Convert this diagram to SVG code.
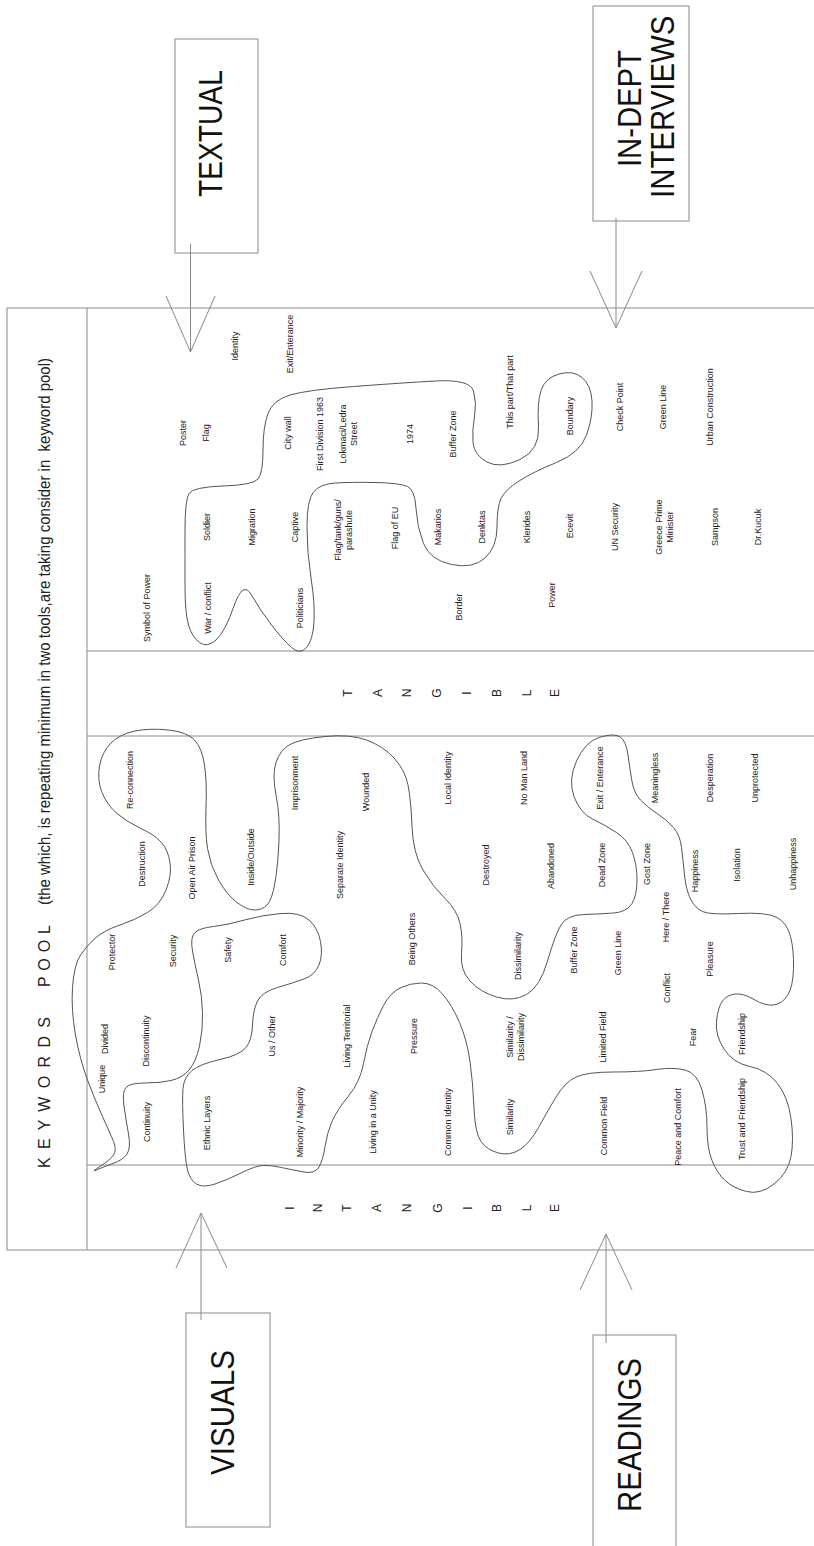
<svg xmlns="http://www.w3.org/2000/svg" width="814" height="1546" viewBox="0 0 814 1546">
<style>
.frame{fill:none;stroke:#8a8a8a;stroke-width:1}
.box{fill:#fff;stroke:#8a8a8a;stroke-width:1}
.conn{fill:none;stroke:#8a8a8a;stroke-width:1}
.blob{fill:none;stroke:#555;stroke-width:1}
.k{font-family:"Liberation Sans",Arial,sans-serif;font-size:9px;fill:#222;text-anchor:middle;dominant-baseline:central}
.big{font-family:"Liberation Sans",Arial,sans-serif;font-size:29.4px;fill:#111}
.ttl{font-family:"Liberation Sans",Arial,sans-serif;font-size:16px;fill:#222;white-space:pre}
.t{font-family:"Liberation Sans",Arial,sans-serif;font-size:12px;fill:#222;text-anchor:middle;dominant-baseline:central}
</style>
<rect width="814" height="1546" fill="#fff"/>
<g id="pool-frame">
<rect class="frame" x="7" y="308" width="820" height="942"/>
<line class="frame" x1="87" y1="308" x2="87" y2="1250"/>
<line class="frame" x1="87" y1="651" x2="814" y2="651"/>
<line class="frame" x1="87" y1="736" x2="814" y2="736"/>
<line class="frame" x1="87" y1="1165" x2="814" y2="1165"/>
</g>
<g id="pool-title">
<text class="ttl" transform="translate(50,1168) rotate(-90)" textLength="151" lengthAdjust="spacing">K E Y W O R D S</text>
<text class="ttl" transform="translate(50,987) rotate(-90)" textLength="62" lengthAdjust="spacing">P O O L</text>
<text class="ttl" transform="translate(50,905) rotate(-90)" textLength="547" lengthAdjust="spacingAndGlyphs">(the which, is repeating minimum in two tools,are taking consider in  keyword pool)</text>
</g>
<g id="tangible">
<text class="t" transform="translate(348,693) rotate(-90)">T</text>
<text class="t" transform="translate(378,693) rotate(-90)">A</text>
<text class="t" transform="translate(407,693) rotate(-90)">N</text>
<text class="t" transform="translate(437,693) rotate(-90)">G</text>
<text class="t" transform="translate(467,693) rotate(-90)">I</text>
<text class="t" transform="translate(497,693) rotate(-90)">B</text>
<text class="t" transform="translate(527,693) rotate(-90)">L</text>
<text class="t" transform="translate(555,693) rotate(-90)">E</text>
</g>
<g id="intangible">
<text class="t" transform="translate(290,1208) rotate(-90)">I</text>
<text class="t" transform="translate(318,1208) rotate(-90)">N</text>
<text class="t" transform="translate(347,1208) rotate(-90)">T</text>
<text class="t" transform="translate(377,1208) rotate(-90)">A</text>
<text class="t" transform="translate(407,1208) rotate(-90)">N</text>
<text class="t" transform="translate(438,1208) rotate(-90)">G</text>
<text class="t" transform="translate(468,1208) rotate(-90)">I</text>
<text class="t" transform="translate(497,1208) rotate(-90)">B</text>
<text class="t" transform="translate(527,1208) rotate(-90)">L</text>
<text class="t" transform="translate(555,1208) rotate(-90)">E</text>
</g>
<g id="connectors">
<line class="conn" x1="190.5" y1="244" x2="190.5" y2="352"/>
<polyline class="conn" points="166,296 190.5,352 215,296"/>
<line class="conn" x1="616" y1="218" x2="616" y2="328"/>
<polyline class="conn" points="590,271 616,328 642,271"/>
<line class="conn" x1="201" y1="1320" x2="201" y2="1213"/>
<polyline class="conn" points="176,1268 201,1213 227,1268"/>
<line class="conn" x1="606" y1="1343" x2="606" y2="1234"/>
<polyline class="conn" points="580,1290 606,1234 632,1290"/>
</g>
<g id="textual">
<rect class="box" x="175" y="39" width="83" height="214"/>
<line class="conn" x1="190.5" y1="244" x2="190.5" y2="253"/>
<text class="big" style="font-size:28.2px" transform="translate(222,197) rotate(-90) scale(1,1.2)">TEXTUAL</text>
</g>
<g id="in-depth-interviews">
<rect class="box" x="593" y="6" width="96" height="215"/>
<line class="conn" x1="616" y1="218" x2="616" y2="221"/>
<text class="big" style="font-size:29.25px" transform="translate(641,167) rotate(-90) scale(1,1.16)">IN-DEPT</text>
<text class="big" transform="translate(674,198) rotate(-90) scale(1,1.16)">INTERVIEWS</text>
</g>
<g id="visuals">
<rect class="box" x="186" y="1313" width="84" height="214"/>
<line class="conn" x1="201" y1="1313" x2="201" y2="1320"/>
<text class="big" style="font-size:29.6px" transform="translate(234,1475) rotate(-90) scale(1,1.15)">VISUALS</text>
</g>
<g id="readings">
<rect class="box" x="593" y="1335" width="83" height="230"/>
<line class="conn" x1="606" y1="1335" x2="606" y2="1343"/>
<text class="big" style="font-size:29.5px" transform="translate(641,1512) rotate(-90) scale(1,1.15)">READINGS</text>
</g>
<g id="groupings">
<path class="blob" d="M 189,493.5 Q 185,500 185,530 Q 185,560 185,586.5 Q 185,613 188.5,625 Q 192,637 199.5,642.5 Q 207,648 216,640 Q 225,632 234,606 Q 243,580 251.5,595 Q 260,610 271.5,625 Q 283,640 291.5,647.5 Q 300,655 306.5,647.5 Q 313,640 314,621.5 Q 315,603 311,578 Q 307,553 307,526.5 Q 307,500 313.5,492 Q 320,484 335,483 Q 350,482 375,482.5 Q 400,483 407.5,486.5 Q 415,490 416,508.5 Q 417,527 423.5,543.5 Q 430,560 451.5,564.5 Q 473,569 485,558 Q 497,547 497,527 Q 497,507 501,498.5 Q 505,490 519,481 Q 533,472 556.5,462.5 Q 580,453 586.5,435 Q 593,417 592,401 Q 591,385 582,377.5 Q 573,370 559,374 Q 545,378 541,390.5 Q 537,403 538.5,426.5 Q 540,450 520,459.5 Q 500,469 487,462 Q 474,455 473,442.5 Q 472,430 474.5,416.5 Q 477,403 473.5,391 Q 470,379 435,381 Q 400,383 353.5,386.5 Q 307,390 290,395 Q 273,400 268,413.5 Q 263,427 263,450 Q 263,473 258,479 Q 253,485 223,486 Q 193,487 189,493.5 Z"/>
<path class="blob" d="M 135,731 Q 150,728 168.5,730 Q 187,732 194.5,740 Q 202,748 204.5,765 Q 207,782 206,807 Q 205,832 207.5,848.5 Q 210,865 218.5,880 Q 227,895 237,902.5 Q 247,910 254.5,910 Q 262,910 267,905 Q 272,900 275,882.5 Q 278,865 279,840 Q 280,815 276,795 Q 272,775 276,762.5 Q 280,750 290,744.5 Q 300,739 325,736.5 Q 350,734 366.5,740 Q 383,746 394,758 Q 405,770 408,785 Q 411,800 412,826.5 Q 413,853 423,870 Q 433,887 445,898.5 Q 457,910 460,923.5 Q 463,937 461.5,953.5 Q 460,970 470,981 Q 480,992 496.5,997 Q 513,1002 526.5,994.5 Q 540,987 547.5,961 Q 555,935 561,925 Q 567,915 583.5,914.5 Q 600,914 613.5,913 Q 627,912 632,903.5 Q 637,895 637,880 Q 637,865 632.5,852.5 Q 628,840 616.5,832.5 Q 605,825 592.5,819 Q 580,813 574,796.5 Q 568,780 576.5,761 Q 585,742 599,737.5 Q 613,733 619.5,736.5 Q 626,740 628,755 Q 630,770 632,781.5 Q 634,793 640.5,800 Q 647,807 657,813.5 Q 667,820 673.5,827.5 Q 680,835 681.5,847.5 Q 683,860 684.5,875 Q 686,890 690.5,899 Q 695,908 702.5,911.5 Q 710,915 738.5,913.5 Q 767,912 777,917.5 Q 787,923 790.5,936.5 Q 794,950 793.5,968.5 Q 793,987 787.5,995.5 Q 782,1004 773.5,1005 Q 765,1006 754,999.5 Q 743,993 735,994 Q 727,995 722.5,1001 Q 718,1007 716.5,1021 Q 715,1035 724,1049 Q 733,1063 750,1066.5 Q 767,1070 777.5,1083.5 Q 788,1097 791,1118.5 Q 794,1140 791,1156.5 Q 788,1173 774,1184 Q 760,1195 746.5,1191.5 Q 733,1188 725,1180.5 Q 717,1173 712,1160.5 Q 707,1148 707,1127.5 Q 707,1107 702,1090 Q 697,1073 685,1070 Q 673,1067 656.5,1069.5 Q 640,1072 613.5,1072 Q 587,1072 576,1077 Q 565,1082 556,1097 Q 547,1112 538.5,1127.5 Q 530,1143 520,1149.5 Q 510,1156 498.5,1153 Q 487,1150 481,1141.5 Q 475,1133 474,1108 Q 473,1083 470,1061.5 Q 467,1040 459.5,1022.5 Q 452,1005 442.5,994 Q 433,983 421.5,983 Q 410,983 400,988 Q 390,993 383.5,1005.5 Q 377,1018 372,1031.5 Q 367,1045 363.5,1063.5 Q 360,1082 348.5,1096 Q 337,1110 332,1121.5 Q 327,1133 325,1146.5 Q 323,1160 319,1167 Q 315,1174 304,1172 Q 293,1170 281.5,1167.5 Q 270,1165 262.5,1165.5 Q 255,1166 241,1173 Q 227,1180 215,1184 Q 203,1188 196.5,1184 Q 190,1180 187.5,1170 Q 185,1160 183.5,1130 Q 182,1100 183,1088.5 Q 184,1077 192,1070.5 Q 200,1064 220,1059.5 Q 240,1055 246,1047.5 Q 252,1040 252.5,1025 Q 253,1010 257.5,1001 Q 262,992 277.5,987.5 Q 293,983 304,979 Q 315,975 319,965 Q 323,955 320.5,941.5 Q 318,928 309,920 Q 300,912 281,913.5 Q 262,915 244.5,920 Q 227,925 213.5,926.5 Q 200,928 195,932.5 Q 190,937 192.5,951 Q 195,965 198.5,980 Q 202,995 202.5,1012.5 Q 203,1030 199.5,1046 Q 196,1062 189,1070 Q 182,1078 171,1080.5 Q 160,1083 145,1083 Q 130,1083 126,1087.5 Q 122,1092 124,1106 Q 126,1120 128.5,1134 Q 131,1148 127,1154 Q 123,1160 113,1163.5 Q 103,1167 96.5,1170 Q 90,1173 100,1166.5 Q 110,1160 113.5,1155 Q 117,1150 113.5,1141.5 Q 110,1133 102.5,1116.5 Q 95,1100 87.5,1080 Q 80,1060 75.5,1035 Q 71,1010 72.5,987.5 Q 74,965 80.5,955 Q 87,945 96,937.5 Q 105,930 120,925 Q 135,920 147.5,912.5 Q 160,905 166,890 Q 172,875 170,862.5 Q 168,850 161.5,842.5 Q 155,835 141,828.5 Q 127,822 117,813.5 Q 107,805 102,792.5 Q 97,780 99.5,766 Q 102,752 111,743 Q 120,734 135,731 Z"/>
</g>
<g id="tangible-keywords">
<g id="kw-symbol-of-power"><text class="k" transform="translate(147,608) rotate(-90)">Symbol of Power</text></g>
<g id="kw-poster"><text class="k" transform="translate(183,433) rotate(-90)">Poster</text></g>
<g id="kw-flag"><text class="k" transform="translate(206,433) rotate(-90)">Flag</text></g>
<g id="kw-identity"><text class="k" transform="translate(235,346) rotate(-90)">Identity</text></g>
<g id="kw-exit-enterance-t"><text class="k" transform="translate(290,344) rotate(-90)">Exit/Enterance</text></g>
<g id="kw-soldier"><text class="k" transform="translate(207,527) rotate(-90)">Soldier</text></g>
<g id="kw-war-conflict"><text class="k" transform="translate(208,608) rotate(-90)">War / conflict</text></g>
<g id="kw-migration"><text class="k" transform="translate(252,527) rotate(-90)">Migration</text></g>
<g id="kw-city-wall"><text class="k" transform="translate(288,433) rotate(-90)">City wall</text></g>
<g id="kw-captive"><text class="k" transform="translate(295,527) rotate(-90)">Captive</text></g>
<g id="kw-politicians"><text class="k" transform="translate(300,608) rotate(-90)">Politicians</text></g>
<g id="kw-first-division"><text class="k" transform="translate(320,434) rotate(-90)">First Division 1963</text></g>
<g id="kw-lokmaci"><text class="k" transform="translate(343,434) rotate(-90)">Lokmaci/Ledra</text><text class="k" transform="translate(354,434) rotate(-90)">Street</text></g>
<g id="kw-flag-tank"><text class="k" transform="translate(338,530) rotate(-90)">Flag/tank/guns/</text><text class="k" transform="translate(349,530) rotate(-90)">parashute</text></g>
<g id="kw-flag-eu"><text class="k" transform="translate(395,528) rotate(-90)">Flag of EU</text></g>
<g id="kw-1974"><text class="k" transform="translate(410,434) rotate(-90)">1974</text></g>
<g id="kw-buffer-zone-t"><text class="k" transform="translate(453,434) rotate(-90)">Buffer Zone</text></g>
<g id="kw-this-part"><text class="k" transform="translate(510,392) rotate(-90)">This part/That part</text></g>
<g id="kw-boundary"><text class="k" transform="translate(570,416) rotate(-90)">Boundary</text></g>
<g id="kw-check-point"><text class="k" transform="translate(620,407) rotate(-90)">Check Point</text></g>
<g id="kw-green-line-t"><text class="k" transform="translate(663,407) rotate(-90)">Green Line</text></g>
<g id="kw-urban"><text class="k" transform="translate(710,407) rotate(-90)">Urban Construction</text></g>
<g id="kw-makarios"><text class="k" transform="translate(438,527) rotate(-90)">Makarios</text></g>
<g id="kw-denktas"><text class="k" transform="translate(482,527) rotate(-90)">Denktas</text></g>
<g id="kw-klerides"><text class="k" transform="translate(527,527) rotate(-90)">Klerides</text></g>
<g id="kw-ecevit"><text class="k" transform="translate(570,526) rotate(-90)">Ecevit</text></g>
<g id="kw-un-security"><text class="k" transform="translate(615,527) rotate(-90)">UN Security</text></g>
<g id="kw-greece-pm"><text class="k" transform="translate(659,527) rotate(-90)">Greece Prime</text><text class="k" transform="translate(670,527) rotate(-90)">Minister</text></g>
<g id="kw-sampson"><text class="k" transform="translate(715,527) rotate(-90)">Sampson</text></g>
<g id="kw-kucuk"><text class="k" transform="translate(758,527) rotate(-90)">Dr.Kucuk</text></g>
<g id="kw-border"><text class="k" transform="translate(459,607) rotate(-90)">Border</text></g>
<g id="kw-power"><text class="k" transform="translate(552,595) rotate(-90)">Power</text></g>
</g>
<g id="intangible-keywords">
<g id="kw-reconnection"><text class="k" transform="translate(130,780) rotate(-90)">Re-connection</text></g>
<g id="kw-destruction"><text class="k" transform="translate(142,864) rotate(-90)">Destruction</text></g>
<g id="kw-open-air-prison"><text class="k" transform="translate(192,868) rotate(-90)">Open Air Prison</text></g>
<g id="kw-inside-outside"><text class="k" transform="translate(251,857) rotate(-90)">Inside/Outside</text></g>
<g id="kw-imprisonment"><text class="k" transform="translate(295,783) rotate(-90)">Imprisonment</text></g>
<g id="kw-wounded"><text class="k" transform="translate(366,792) rotate(-90)">Wounded</text></g>
<g id="kw-separate-identity"><text class="k" transform="translate(340,865) rotate(-90)">Separate Identity</text></g>
<g id="kw-protector"><text class="k" transform="translate(112,952) rotate(-90)">Protector</text></g>
<g id="kw-security"><text class="k" transform="translate(173,951) rotate(-90)">Security</text></g>
<g id="kw-safety"><text class="k" transform="translate(228,950) rotate(-90)">Safety</text></g>
<g id="kw-comfort"><text class="k" transform="translate(283,950) rotate(-90)">Comfort</text></g>
<g id="kw-being-others"><text class="k" transform="translate(412,939) rotate(-90)">Being Others</text></g>
<g id="kw-local-identity"><text class="k" transform="translate(448,778) rotate(-90)">Local Identity</text></g>
<g id="kw-no-man-land"><text class="k" transform="translate(524,778) rotate(-90)">No Man Land</text></g>
<g id="kw-exit-enterance-i"><text class="k" transform="translate(600,778) rotate(-90)">Exit / Enterance</text></g>
<g id="kw-meaningless"><text class="k" transform="translate(655,778) rotate(-90)">Meaningless</text></g>
<g id="kw-desperation"><text class="k" transform="translate(710,778) rotate(-90)">Desperation</text></g>
<g id="kw-unprotected"><text class="k" transform="translate(755,778) rotate(-90)">Unprotected</text></g>
<g id="kw-destroyed"><text class="k" transform="translate(486,865) rotate(-90)">Destroyed</text></g>
<g id="kw-abandoned"><text class="k" transform="translate(551,866) rotate(-90)">Abandoned</text></g>
<g id="kw-dead-zone"><text class="k" transform="translate(602,865) rotate(-90)">Dead Zone</text></g>
<g id="kw-gost-zone"><text class="k" transform="translate(647,864) rotate(-90)">Gost Zone</text></g>
<g id="kw-happiness"><text class="k" transform="translate(695,871) rotate(-90)">Happiness</text></g>
<g id="kw-isolation"><text class="k" transform="translate(737,865) rotate(-90)">Isolation</text></g>
<g id="kw-unhappiness"><text class="k" transform="translate(793,864) rotate(-90)">Unhappiness</text></g>
<g id="kw-here-there"><text class="k" transform="translate(666,917) rotate(-90)">Here / There</text></g>
<g id="kw-dissimilarity"><text class="k" transform="translate(518,956) rotate(-90)">Dissimilarity</text></g>
<g id="kw-buffer-zone-i"><text class="k" transform="translate(574,950) rotate(-90)">Buffer Zone</text></g>
<g id="kw-green-line-i"><text class="k" transform="translate(618,953) rotate(-90)">Green Line</text></g>
<g id="kw-pleasure"><text class="k" transform="translate(710,959) rotate(-90)">Pleasure</text></g>
<g id="kw-conflict"><text class="k" transform="translate(667,988) rotate(-90)">Conflict</text></g>
<g id="kw-unique"><text class="k" transform="translate(102,1079) rotate(-90)">Unique</text></g>
<g id="kw-divided"><text class="k" transform="translate(105,1039) rotate(-90)">Divided</text></g>
<g id="kw-discontinuity"><text class="k" transform="translate(146,1041) rotate(-90)">Discontinuity</text></g>
<g id="kw-continuity"><text class="k" transform="translate(147,1122) rotate(-90)">Continuity</text></g>
<g id="kw-ethnic-layers"><text class="k" transform="translate(207,1123) rotate(-90)">Ethnic Layers</text></g>
<g id="kw-us-other"><text class="k" transform="translate(272,1036) rotate(-90)">Us / Other</text></g>
<g id="kw-minority"><text class="k" transform="translate(300,1122) rotate(-90)">Minority / Majority</text></g>
<g id="kw-living-territorial"><text class="k" transform="translate(347,1036) rotate(-90)">Living Territorial</text></g>
<g id="kw-living-unity"><text class="k" transform="translate(373,1122) rotate(-90)">Living in a Unity</text></g>
<g id="kw-pressure"><text class="k" transform="translate(414,1036) rotate(-90)">Pressure</text></g>
<g id="kw-common-identity"><text class="k" transform="translate(448,1122) rotate(-90)">Common Identity</text></g>
<g id="kw-sim-dissim"><text class="k" transform="translate(510,1037) rotate(-90)">Similarity /</text><text class="k" transform="translate(521,1037) rotate(-90)">Dissimilarity</text></g>
<g id="kw-similarity"><text class="k" transform="translate(510,1117) rotate(-90)">Similarity</text></g>
<g id="kw-limited-field"><text class="k" transform="translate(603,1037) rotate(-90)">Limited Field</text></g>
<g id="kw-common-field"><text class="k" transform="translate(604,1126) rotate(-90)">Common Field</text></g>
<g id="kw-fear"><text class="k" transform="translate(693,1037) rotate(-90)">Fear</text></g>
<g id="kw-peace-comfort"><text class="k" transform="translate(678,1127) rotate(-90)">Peace and Comfort</text></g>
<g id="kw-friendship"><text class="k" transform="translate(742,1034) rotate(-90)">Friendship</text></g>
<g id="kw-trust-friendship"><text class="k" transform="translate(742,1119) rotate(-90)">Trust and Friendship</text></g>
</g>
</svg>
